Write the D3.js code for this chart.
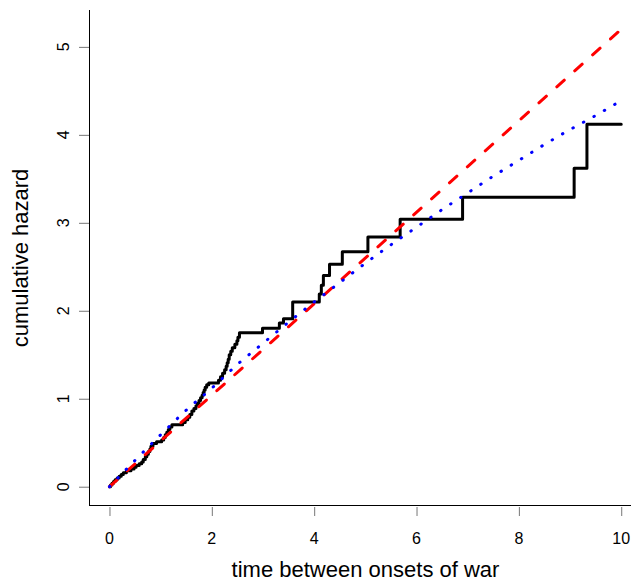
<!DOCTYPE html>
<html><head><meta charset="utf-8">
<script src="https://cdn.jsdelivr.net/npm/d3@7"></script>
<style>html,body{margin:0;padding:0;background:#fff;overflow:hidden}</style>
</head><body>
<script>
// Nelson-Aalen style step estimate: jump times and cumulative hazard after each jump
const stepTimes = [0,0.02,0.05,0.08,0.11,0.15,0.19,0.23,0.27,0.33,0.42,0.48,0.52,0.58,0.63,0.66,0.70,0.73,0.76,0.79,0.81,0.85,0.92,1.02,1.06,1.09,1.12,1.15,1.18,1.22,1.43,1.48,1.53,1.57,1.61,1.65,1.69,1.72,1.75,1.78,1.81,1.83,1.85,1.87,1.90,1.94,2.13,2.17,2.21,2.25,2.28,2.30,2.32,2.34,2.37,2.40,2.45,2.49,2.51,2.54,2.99,3.32,3.40,3.58,4.10,4.14,4.18,4.30,4.55,5.05,5.68,6.90,9.08,9.33,10.0];
const stepHazard = [0,0.02,0.04,0.06,0.08,0.10,0.12,0.14,0.16,0.18,0.20,0.22,0.24,0.26,0.28,0.31,0.34,0.37,0.40,0.43,0.46,0.49,0.51,0.53,0.56,0.59,0.62,0.65,0.68,0.705,0.73,0.76,0.79,0.82,0.86,0.89,0.92,0.95,0.98,1.01,1.04,1.07,1.10,1.13,1.16,1.18,1.21,1.25,1.29,1.33,1.37,1.41,1.45,1.50,1.54,1.58,1.62,1.66,1.70,1.75,1.80,1.86,1.91,2.10,2.19,2.29,2.40,2.53,2.67,2.84,3.04,3.29,3.62,4.12,4.12];
// exponential fit (red dashed)
const expTimes = [0, 10];
const expHazard = [0, 5.2];
// Weibull-type fit (blue dotted)
const weibTimes = [0,0.5,1,1.5,2,2.5,3,3.5,4,4.5,5,5.5,6,6.5,7,7.5,8,8.5,9,9.5,10];
const weibHazard = [0,0.30,0.59,0.87,1.12,1.39,1.63,1.87,2.10,2.32,2.54,2.75,2.95,3.15,3.34,3.53,3.71,3.89,4.06,4.22,4.39];
const xTicks = [0,2,4,6,8,10];
const yTicks = [0,1,2,3,4,5];
const xTitle = "time between onsets of war";
const yTitle = "cumulative hazard";

const W = 631, H = 583;
const svg = d3.select("body").append("svg").attr("width", W).attr("height", H)
  .style("font-family", "'Liberation Sans', Arial, sans-serif");

const x = d3.scaleLinear().domain([-0.4, 10.4]).range([89, 641.7]);
const y = d3.scaleLinear().domain([-0.208, 5.408]).range([505, 11]);

// box (L shape)
svg.append("line").attr("x1", 89.5).attr("x2", 89.5).attr("y1", 10).attr("y2", 505.5)
  .attr("stroke", "#000").attr("stroke-width", 1);
svg.append("line").attr("x1", 89).attr("x2", W).attr("y1", 505.5).attr("y2", 505.5)
  .attr("stroke", "#000").attr("stroke-width", 1);

// x axis ticks
const gx = svg.append("g").attr("transform", "translate(0,507)")
  .call(d3.axisBottom(x).tickValues(xTicks).tickSize(9).tickSizeOuter(0).tickFormat(""));
gx.select(".domain").remove();
gx.selectAll(".tick line").attr("stroke", "#777");
svg.append("g").selectAll("text").data(xTicks).join("text")
  .attr("x", d => x(d)).attr("y", 544).attr("text-anchor", "middle")
  .attr("font-size", 16).attr("fill", "#000").text(d => d);

// y axis ticks
const gy = svg.append("g").attr("transform", "translate(89,0)")
  .call(d3.axisLeft(y).tickValues(yTicks).tickSize(10).tickSizeOuter(0).tickFormat(""));
gy.select(".domain").remove();
gy.selectAll(".tick line").attr("stroke", "#777");
svg.append("g").selectAll("text").data(yTicks).join("text")
  .attr("transform", d => `translate(63,${y(d)}) rotate(-90)`)
  .attr("dy", "0.36em").attr("text-anchor", "middle")
  .attr("font-size", 16).attr("fill", "#000").text(d => d);

// titles
svg.append("text").attr("x", 365.5).attr("y", 577).attr("text-anchor", "middle")
  .attr("font-size", 22).attr("fill", "#000").text(xTitle);
svg.append("text").attr("transform", "translate(20,258) rotate(-90)")
  .attr("dy", "0.36em").attr("text-anchor", "middle")
  .attr("font-size", 22).attr("fill", "#000").text(yTitle);

// lines
const line = d3.line().x(d => x(d[0])).y(d => y(d[1]));
const stepLine = d3.line().x(d => x(d[0])).y(d => y(d[1])).curve(d3.curveStepAfter);

svg.append("path").datum(stepTimes.map((t, i) => [t, stepHazard[i]]))
  .attr("d", stepLine).attr("fill", "none").attr("stroke", "#000")
  .attr("stroke-width", 3).attr("stroke-linejoin", "round").attr("stroke-linecap", "round");

svg.append("path").datum(expTimes.map((t, i) => [t, expHazard[i]]))
  .attr("d", line).attr("fill", "none").attr("stroke", "#ff0000")
  .attr("stroke-width", 3).attr("stroke-dasharray", "10,14").attr("stroke-linecap", "round");

svg.append("path").datum(weibTimes.map((t, i) => [t, weibHazard[i]]))
  .attr("d", line.curve(d3.curveMonotoneX)).attr("fill", "none").attr("stroke", "#0000ff")
  .attr("stroke-width", 3).attr("stroke-dasharray", "0.5,11.5").attr("stroke-linecap", "round");
</script>
</body></html>
